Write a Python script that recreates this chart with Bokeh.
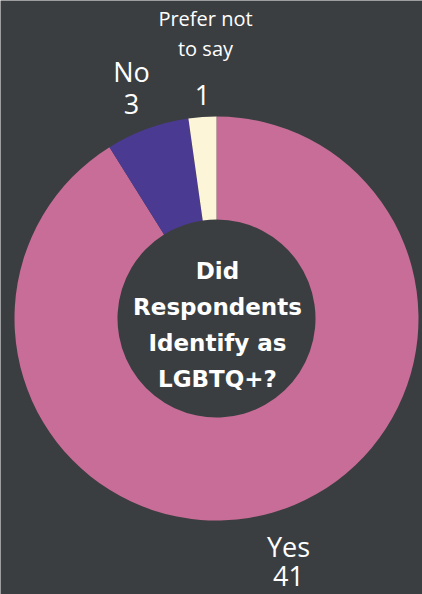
import math
from bokeh.plotting import figure
from bokeh.models import ColumnDataSource, Range1d
from bokeh.core.properties import value
from bokeh.embed import file_html
from bokeh.resources import INLINE

categories = ["Yes", "No", "Prefer not to say"]
counts = [41, 3, 1]
colors = ["#c76d97", "#4b3a91", "#fcf5d7"]
center_lines = ["Did", "Respondents", "Identify as", "LGBTQ+?"]

BG = "#3b3e41"
W, H = 422, 594

p = figure(width=W, height=H, output_backend="svg", toolbar_location=None,
           x_range=Range1d(0, W), y_range=Range1d(0, H),
           background_fill_color=BG, border_fill_color=BG,
           min_border=0, outline_line_color=None)
p.axis.visible = False
p.grid.visible = False

def Y(py):
    return H - py

cx, cy = 216, Y(318)
r_out, r_in = 202, 99

# slices go clockwise from top: Yes, No, Prefer
total = sum(counts)
starts, ends = [], []
ang = math.pi / 2
for c in counts:
    sweep = 2 * math.pi * c / total
    ends.append(ang)
    starts.append(ang - sweep)
    ang -= sweep

src = ColumnDataSource(dict(start=starts, end=ends, color=colors, cat=categories))
p.annular_wedge(x=cx, y=cy, inner_radius=r_in, outer_radius=r_out,
                start_angle="start", end_angle="end", fill_color="color",
                line_color=None, source=src)

lab_font = value("Open Sans")
p.text(x=[205, 205], y=[Y(18), Y(48)], text=["Prefer not", "to say"],
       text_font=lab_font, text_font_size="20px", text_color="white",
       text_align="center", text_baseline="middle")
p.text(x=[202], y=[Y(94)], text=[str(counts[2])],
       text_font=lab_font, text_font_size="27px", text_color="white",
       text_align="center", text_baseline="middle")
p.text(x=[131, 131], y=[Y(71), Y(103)], text=[categories[1], str(counts[1])],
       text_font=lab_font, text_font_size="27px", text_color="white",
       text_align="center", text_baseline="middle")
p.text(x=[288, 288], y=[Y(546), Y(575)], text=[categories[0], str(counts[0])],
       text_font=lab_font, text_font_size="27px", text_color="white",
       text_align="center", text_baseline="middle")

ys = [Y(270), Y(306), Y(342), Y(378)]
p.text(x=[cx + 1] * 4, y=ys, text=center_lines, text_font=value("DejaVu Sans"),
       text_font_size="23px", text_font_style="bold", text_color="white",
       text_align="center", text_baseline="middle")

html = file_html(p, INLINE)
html = html.replace("<body>", '<body style="background:%s;margin:0">' % BG, 1)
open("out.html", "w").write(html)
